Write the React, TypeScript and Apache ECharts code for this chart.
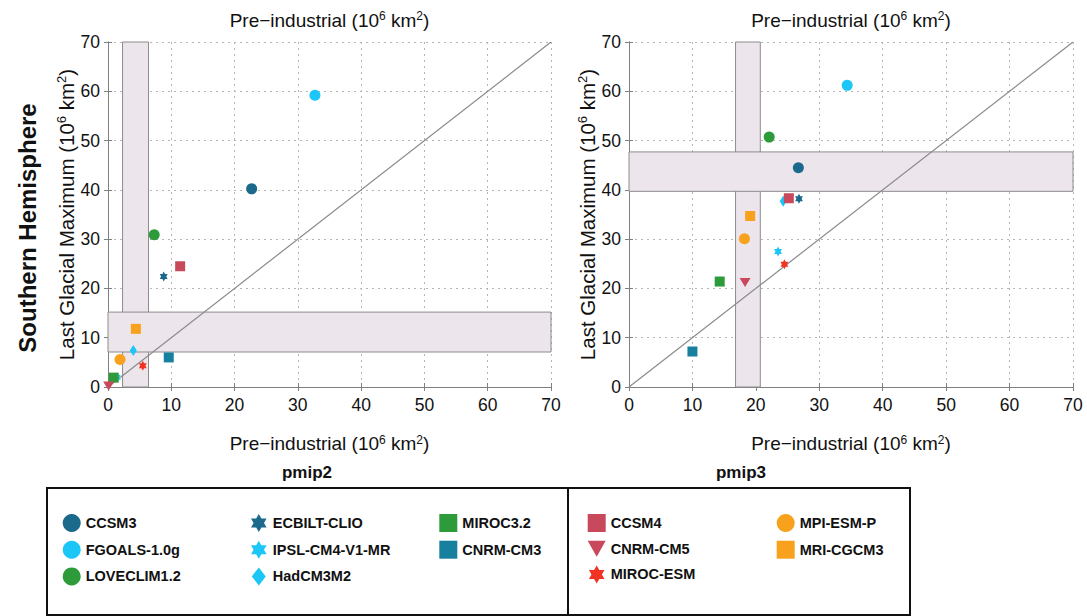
import React, { useEffect, useRef } from 'react';
import * as echarts from 'echarts';

// ---- data ----
const models = [
  'CCSM3', 'FGOALS-1.0g', 'LOVECLIM1.2', 'ECBILT-CLIO', 'IPSL-CM4-V1-MR', 'HadCM3M2',
  'MIROC3.2', 'CNRM-CM3', 'CCSM4', 'CNRM-CM5', 'MIROC-ESM', 'MPI-ESM-P', 'MRI-CGCM3',
];
// left panel
const preIndustrialA = [22.7, 32.7, 7.3, 8.8, 1.4, 4.0, 0.9, 9.6, 11.4, 0.1, 5.5, 1.9, 4.4];
const lgmA = [40.2, 59.2, 30.9, 22.4, 2.0, 7.4, 1.9, 6.0, 24.5, 0.2, 4.3, 5.6, 11.8];
// right panel
const preIndustrialB = [26.7, 34.4, 22.1, 26.8, 23.5, 24.3, 14.3, 10.0, 25.2, 18.3, 24.5, 18.2, 19.1];
const lgmB = [44.5, 61.2, 50.7, 38.2, 27.5, 37.7, 21.4, 7.2, 38.3, 21.2, 24.9, 30.1, 34.7];
// observed ranges (shaded bands)
const bandAX = [2.3, 6.4];
const bandAY = [7.1, 15.2];
const bandBX = [16.8, 20.7];
const bandBY = [39.7, 47.7];
const oneToOne = [[0, 0], [70, 70]];
const axisMin = 0;
const axisMax = 70;
const axisStep = 10;
const pmip2Columns = [
  ['CCSM3', 'FGOALS-1.0g', 'LOVECLIM1.2'],
  ['ECBILT-CLIO', 'IPSL-CM4-V1-MR', 'HadCM3M2'],
  ['MIROC3.2', 'CNRM-CM3'],
];
const pmip3Columns = [
  ['CCSM4', 'CNRM-CM5', 'MIROC-ESM'],
  ['MPI-ESM-P', 'MRI-CGCM3'],
];

// ---- styles ----
const STAR = 'path://M0,-10 L2.887,-5 L8.66,-5 L5.774,0 L8.66,5 L2.887,5 L0,10 L-2.887,5 L-8.66,5 L-5.774,0 L-8.66,-5 L-2.887,-5 Z';
const DIAMOND = 'path://M7,0 L14,9 L7,18 L0,9 Z';
const TRI_DOWN = 'path://M0,0 L18,0 L9,16 Z';
const DARK = '#1b6a8b';
const CYAN = '#1cc6f6';
const GREEN = '#2e9b3a';
const TEAL = '#17809f';
const ROSE = '#c8485c';
const RED = '#f03322';
const ORANGE = '#f8a11c';
const styles: Record<string, { symbol: string; color: string; size: number | number[] }> = {
  'CCSM3': { symbol: 'circle', color: DARK, size: 11 },
  'FGOALS-1.0g': { symbol: 'circle', color: CYAN, size: 11 },
  'LOVECLIM1.2': { symbol: 'circle', color: GREEN, size: 11 },
  'ECBILT-CLIO': { symbol: STAR, color: DARK, size: [9, 10] },
  'IPSL-CM4-V1-MR': { symbol: STAR, color: CYAN, size: [9, 10] },
  'HadCM3M2': { symbol: DIAMOND, color: CYAN, size: [9, 11] },
  'MIROC3.2': { symbol: 'rect', color: GREEN, size: 10 },
  'CNRM-CM3': { symbol: 'rect', color: TEAL, size: 10 },
  'CCSM4': { symbol: 'rect', color: ROSE, size: 10 },
  'CNRM-CM5': { symbol: TRI_DOWN, color: ROSE, size: [11, 10] },
  'MIROC-ESM': { symbol: STAR, color: RED, size: [9, 10] },
  'MPI-ESM-P': { symbol: 'circle', color: ORANGE, size: 11 },
  'MRI-CGCM3': { symbol: 'rect', color: ORANGE, size: 10 },
};

const FONT = "'Liberation Sans', Arial, Helvetica, sans-serif";
const AXIS_NAME = 'Pre\u2212industrial (10{sup|6} km{sup|2})';
const Y_NAME = 'Last Glacial Maximum (10{sup|6} km{sup|2})';

const grids = [
  { left: 108, top: 42, width: 443, height: 345 },
  { left: 629, top: 42, width: 444, height: 345 },
];

function nameStyle(size: number) {
  return {
    fontFamily: FONT,
    fontSize: size,
    color: '#111',
    rich: {
      sup: { fontFamily: FONT, fontSize: Math.round(size * 0.62), color: '#111', verticalAlign: 'top', lineHeight: size * 1.05 },
    },
  };
}

function axesFor(gi: number) {
  const base = {
    gridIndex: gi,
    type: 'value',
    min: axisMin,
    max: axisMax,
    interval: axisStep,
    axisLine: { show: true, lineStyle: { color: '#808080', width: 1 } },
    axisTick: { show: true, inside: true, length: 4, lineStyle: { color: '#808080' } },
  };
  const split = { show: true, lineStyle: { color: '#b5b5b5', type: [2, 4], width: 1 } };
  const label = { show: true, fontFamily: FONT, fontSize: 17.5, color: '#111' };
  const x = [
    { ...base, position: 'bottom', splitLine: split, axisLabel: { ...label, margin: 9 },
      name: AXIS_NAME, nameLocation: 'middle', nameGap: 47, nameTextStyle: nameStyle(19) },
    { ...base, position: 'top', splitLine: { show: false }, axisLabel: { show: false },
      name: AXIS_NAME, nameLocation: 'middle', nameGap: 12, nameTextStyle: nameStyle(19) },
  ];
  const y = [
    { ...base, position: 'left', splitLine: split, axisLabel: { ...label, margin: 8 },
      name: Y_NAME, nameLocation: 'middle', nameRotate: 90, nameGap: 30, nameTextStyle: nameStyle(20.5) },
    { ...base, position: 'right', splitLine: { show: false }, axisLabel: { show: false } },
  ];
  return { x, y };
}

function bandSeries(gi: number, bx: number[], by: number[]) {
  return {
    type: 'line',
    xAxisIndex: gi * 2,
    yAxisIndex: gi * 2,
    data: [],
    silent: true,
    z: 1,
    markArea: {
      silent: true,
      itemStyle: { color: '#ece5ec', borderColor: '#8c8c8c', borderWidth: 1 },
      data: [
        [{ xAxis: bx[0] }, { xAxis: bx[1] }],
        [{ yAxis: by[0] }, { yAxis: by[1] }],
      ],
    },
  };
}

function lineSeries(gi: number) {
  return {
    type: 'line',
    xAxisIndex: gi * 2,
    yAxisIndex: gi * 2,
    data: oneToOne,
    symbol: 'none',
    silent: true,
    z: 2,
    lineStyle: { color: '#8a8a8a', width: 1.2 },
  };
}

function scatterSeries(gi: number, xs: number[], ys: number[]) {
  return models.map((m, i) => {
    const s = styles[m];
    return {
      type: 'scatter',
      name: m,
      xAxisIndex: gi * 2,
      yAxisIndex: gi * 2,
      symbol: s.symbol,
      symbolSize: s.size,
      symbolKeepAspect: s.symbol.startsWith('path://'),
      itemStyle: { color: s.color, opacity: 1 },
      z: 3,
      data: [[xs[i], ys[i]]],
    };
  });
}

function legendsFor(columns: string[][], lefts: number[]) {
  return columns.map((col, ci) => ({
    orient: 'vertical',
    left: lefts[ci],
    top: 514,
    padding: 0,
    itemGap: 8.7,
    itemWidth: 18,
    itemHeight: 18,
    itemTextGap: 9,
    selectedMode: false,
    data: col,
    textStyle: { fontFamily: FONT, fontSize: 14.5, fontWeight: 'bold', color: '#111' },
  }));
}

export default function App() {
  const ref = useRef<HTMLDivElement>(null);
  useEffect(() => {
    if (!ref.current) return;
    const chart = echarts.init(ref.current, null, { renderer: 'svg' });
    const a0 = axesFor(0);
    const a1 = axesFor(1);
    chart.setOption({
      animation: false,
      backgroundColor: '#ffffff',
      grid: grids,
      xAxis: [...a0.x, ...a1.x],
      yAxis: [...a0.y, ...a1.y],
      legend: [
        ...legendsFor(pmip2Columns, [62.7, 251, 439.3]),
        ...legendsFor(pmip3Columns, [587.7, 776.7]),
      ],
      series: [
        bandSeries(0, bandAX, bandAY),
        bandSeries(1, bandBX, bandBY),
        lineSeries(0),
        lineSeries(1),
        ...scatterSeries(0, preIndustrialA, lgmA),
        ...scatterSeries(1, preIndustrialB, lgmB),
      ],
      graphic: [
        {
          type: 'text', x: 27, y: 228, rotation: Math.PI / 2,
          style: { text: 'Southern Hemisphere', font: `bold 24px ${FONT}`, fill: '#111', textAlign: 'center', textVerticalAlign: 'middle' },
        },
        {
          type: 'text', x: 307, y: 472,
          style: { text: 'pmip2', font: `bold 17px ${FONT}`, fill: '#111', textAlign: 'center', textVerticalAlign: 'middle' },
        },
        {
          type: 'text', x: 741, y: 472,
          style: { text: 'pmip3', font: `bold 17px ${FONT}`, fill: '#111', textAlign: 'center', textVerticalAlign: 'middle' },
        },
        {
          type: 'rect', shape: { x: 47, y: 488, width: 521, height: 127 },
          style: { fill: 'none', stroke: '#111', lineWidth: 2 },
        },
        {
          type: 'rect', shape: { x: 568, y: 488, width: 342, height: 127 },
          style: { fill: 'none', stroke: '#111', lineWidth: 2 },
        },
      ],
    });
    return () => chart.dispose();
  }, []);
  return (
    <div
      ref={ref}
      style={{ position: 'fixed', left: 0, top: 0, width: 1087, height: 616, background: '#fff' }}
    />
  );
}
